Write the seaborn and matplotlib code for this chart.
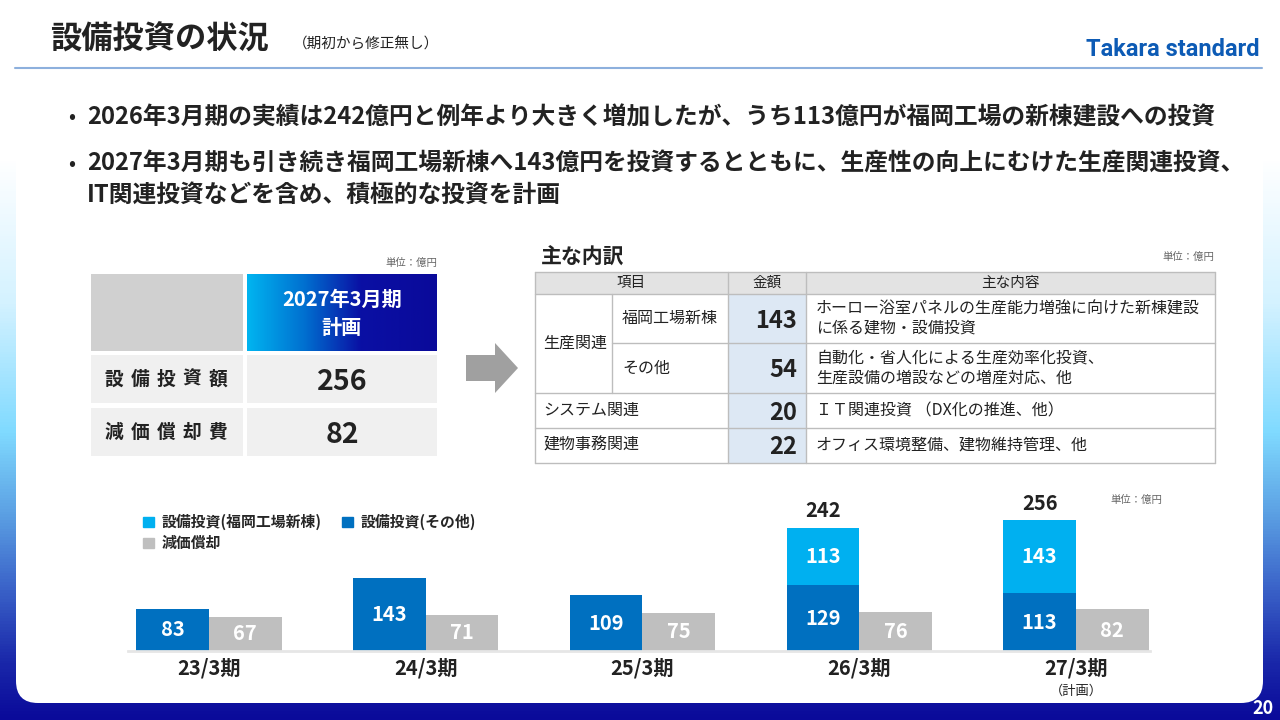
import numpy as np
import pandas as pd
import matplotlib.pyplot as plt
import seaborn as sns
from matplotlib.colors import LinearSegmentedColormap
from matplotlib.patches import Rectangle, FancyBboxPatch, Polygon, Patch

# chart data (億円)
periods = ['23/3期', '24/3期', '25/3期', '26/3期', '27/3期']
capex_fukuoka = [0, 0, 0, 113, 143]
capex_other = [83, 143, 109, 129, 113]
depreciation = [67, 71, 75, 76, 82]

# left summary table
plan_labels = ['設備投資額', '減価償却費']
plan_values = [256, 82]

# breakdown table
detail_groups = ['生産関連', 'システム関連', '建物事務関連']
detail_items = ['福岡工場新棟', 'その他']
detail_amounts = [143, 54, 20, 22]
detail_contents = [
    ['ホーロー浴室パネルの生産能力増強に向けた新棟建設', 'に係る建物・設備投資'],
    ['自動化・省人化による生産効率化投資、', '生産設備の増設などの増産対応、他'],
    ['ＩＴ関連投資 （DX化の推進、他）'],
    ['オフィス環境整備、建物維持管理、他'],
]

bullets = [
    ['2026年3月期の実績は242億円と例年より大きく増加したが、うち113億円が福岡工場の新棟建設への投資'],
    ['2027年3月期も引き続き福岡工場新棟へ143億円を投資するとともに、生産性の向上にむけた生産関連投資、',
     'IT関連投資などを含め、積極的な投資を計画'],
]

sns.set_theme(style='white')
plt.rcParams['font.family'] = ['Noto Sans CJK JP', 'DejaVu Sans']

DARK = '#222222'
LIGHT_BLUE = '#00B0F0'
MID_BLUE = '#0070C0'
GRAY = '#BFBFBF'

fig = plt.figure(figsize=(12.8, 7.2), dpi=100)

# background layer in pixel coordinates
bg = fig.add_axes([0, 0, 1, 1])
bg.axis('off')

bg_cmap = LinearSegmentedColormap.from_list('bg', [
    (0.0, '#FFFFFF'), (0.22, '#FFFFFF'), (0.42, '#D4F2FF'), (0.60, '#80DAFF'),
    (0.72, '#5A9DE2'), (0.82, '#3A62C8'), (0.92, '#1A28AA'), (1.0, '#0A0A9A')])
bg.imshow(np.linspace(0, 1, 720).reshape(-1, 1), cmap=bg_cmap,
          extent=[0, 1280, 720, 0], aspect='auto', zorder=0)
bg.add_patch(FancyBboxPatch((16, -60), 1247, 763,
                            boxstyle='round,pad=0,rounding_size=22',
                            fc='white', ec='none', zorder=1))

# header
bg.text(50, 40, '設備投資の状況', fontsize=22.5, fontweight='bold', color=DARK,
        va='center', zorder=3)
bg.text(293, 45, '（期初から修正無し）', fontsize=10.5, color=DARK, va='center', zorder=3)
bg.text(1260, 49, 'Takara standard', fontsize=17, fontweight='bold', color='#0D5BB5',
        ha='right', va='center', family=['Liberation Sans Narrow', 'Roboto'], zorder=3)
bg.plot([15, 1262], [68, 68], color='#8DB0DD', lw=1.5, zorder=3)

# bullets
y = 117
for lines in bullets:
    bg.text(72, y, '•', fontsize=15, color=DARK, ha='center', va='center', zorder=3)
    for k, line in enumerate(lines):
        bg.text(87, y + k * 31, line, fontsize=17.1, fontweight='bold', color=DARK,
                va='center', zorder=3)
    y += 47

# left summary table
bg.text(437, 263, '単位：億円', fontsize=7.5, color='#666666', ha='right', va='center', zorder=3)
bg.add_patch(Rectangle((91, 274), 152, 77, fc='#D0D0D0', ec='none', zorder=2))
head_cmap = LinearSegmentedColormap.from_list('head', [
    (0.0, '#00B4F0'), (0.3, '#0070D0'), (0.6, '#0A10A4'), (1.0, '#0A0A9A')])
bg.imshow(np.linspace(0, 1, 200).reshape(1, -1), cmap=head_cmap,
          extent=[247, 437, 351, 274], aspect='auto', zorder=2)
bg.text(342, 299, '2027年3月期', fontsize=14.5, fontweight='bold', color='white',
        ha='center', va='center', zorder=3)
bg.text(342, 327, '計画', fontsize=14.5, fontweight='bold', color='white',
        ha='center', va='center', zorder=3)
for r, (lab, val) in enumerate(zip(plan_labels, plan_values)):
    top = 355 + r * 53
    bg.add_patch(Rectangle((91, top), 152, 48, fc='#F0F0F0', ec='none', zorder=2))
    bg.add_patch(Rectangle((247, top), 190, 48, fc='#F0F0F0', ec='none', zorder=2))
    for k, ch in enumerate(lab):
        bg.text(114 + k * 26, top + 24, ch, fontsize=13.5, fontweight='bold', color=DARK,
                ha='center', va='center', zorder=3)
    bg.text(342, top + 27, str(val), fontsize=20.5, fontweight='bold', color=DARK,
            ha='center', va='center', zorder=3)

# arrow
bg.add_patch(Polygon([(466, 355), (495, 355), (495, 343), (518, 368), (495, 393),
                      (495, 381), (466, 381)], closed=True, fc='#A0A0A0', ec='none', zorder=2))

# breakdown table
bg.text(541, 257, '主な内訳', fontsize=15, fontweight='bold', color=DARK, va='center', zorder=3)
bg.text(1214, 257, '単位：億円', fontsize=7.5, color='#666666', ha='right', va='center', zorder=3)
rows = [272, 294, 343, 393, 428, 463]
bg.add_patch(Rectangle((535, 272), 680, 22, fc='#E3E3E3', ec='none', zorder=2))
bg.add_patch(Rectangle((728, 294), 78, 169, fc='#DDE8F4', ec='none', zorder=2))
line_kw = dict(color='#BDBDBD', lw=1, zorder=2.5)
for yy in [272, 294, 393, 428, 463]:
    bg.plot([535, 1215], [yy, yy], **line_kw)
bg.plot([612, 1215], [343, 343], **line_kw)
for xx in [535, 728, 806, 1215]:
    bg.plot([xx, xx], [272, 463], **line_kw)
bg.plot([612, 612], [294, 393], **line_kw)

for txt, cx in zip(['項目', '金額', '主な内容'], [631, 767, 1010]):
    bg.text(cx, 283, txt, fontsize=10.5, color=DARK, ha='center', va='center', zorder=3)

bg.text(543, 343, detail_groups[0], fontsize=11.5, color=DARK, va='center', zorder=3)
for k, item in enumerate(detail_items):
    bg.text(622, (rows[1 + k] + rows[2 + k]) / 2, item, fontsize=11.5,
            color=DARK, va='center', zorder=3)
for k, grp in enumerate(detail_groups[1:]):
    bg.text(543, (rows[3 + k] + rows[4 + k]) / 2, grp, fontsize=11.5, color=DARK,
            va='center', zorder=3)
for k, (amt, content) in enumerate(zip(detail_amounts, detail_contents)):
    mid = (rows[1 + k] + rows[2 + k]) / 2
    bg.text(797, mid + 2, str(amt), fontsize=17, fontweight='bold', color=DARK,
            ha='right', va='center', zorder=3)
    n = len(content)
    for j, line in enumerate(content):
        bg.text(816, mid + (j - (n - 1) / 2) * 19.5, line, fontsize=11.5, color=DARK,
                va='center', zorder=3)

# chart notes
bg.text(1162, 500, '単位：億円', fontsize=7.5, color='#666666', ha='right', va='center', zorder=3)
bg.text(1076, 691, '（計画）', fontsize=9.5, color=DARK, ha='center', va='center', zorder=3)
bg.text(1263, 708, '20', fontsize=13, fontweight='bold', color='white',
        ha='center', va='center', zorder=3)
bg.set_xlim(0, 1280)
bg.set_ylim(720, 0)

# bar chart
ax = fig.add_axes([100 / 1280, 69 / 720, 1080 / 1280, 181 / 720])
ax.patch.set_alpha(0)
totals = [a + b for a, b in zip(capex_other, capex_fukuoka)]
df_top = pd.DataFrame({'期': periods * 2,
                       '系列': ['設備投資'] * 5 + ['減価償却'] * 5,
                       '値': totals + depreciation})
df_base = pd.DataFrame({'期': periods * 2,
                        '系列': ['設備投資'] * 5 + ['減価償却'] * 5,
                        '値': capex_other + depreciation})
order = ['設備投資', '減価償却']
sns.barplot(data=df_top, x='期', y='値', hue='系列', hue_order=order,
            palette={'設備投資': LIGHT_BLUE, '減価償却': GRAY}, width=0.67,
            saturation=1, errorbar=None, legend=False, linewidth=0, ax=ax)
sns.barplot(data=df_base, x='期', y='値', hue='系列', hue_order=order,
            palette={'設備投資': MID_BLUE, '減価償却': GRAY}, width=0.67,
            saturation=1, errorbar=None, legend=False, linewidth=0, ax=ax)

lab_kw = dict(fontsize=14.5, fontweight='bold', color='white')
ax.bar_label(ax.containers[2], labels=[str(v) for v in capex_other], label_type='center', **lab_kw)
ax.bar_label(ax.containers[3], labels=[str(v) for v in depreciation], label_type='center', **lab_kw)
for bar, f, o in zip(ax.containers[0], capex_fukuoka, capex_other):
    if f:
        ax.text(bar.get_x() + bar.get_width() / 2, o + f / 2, str(f),
                ha='center', va='center', **lab_kw)
ax.bar_label(ax.containers[0], labels=[str(t) if f else '' for t, f in zip(totals, capex_fukuoka)],
             padding=5, fontsize=14.5, fontweight='bold', color=DARK)

ax.set_xlim(-0.503, 4.48)
ax.set_ylim(0, 355)
ax.set_xlabel('')
ax.set_ylabel('')
ax.set_yticks([])
ax.set_xticks(range(len(periods)))
ax.set_xticklabels(periods, fontsize=14.5, fontweight='bold', color=DARK)
ax.tick_params(axis='x', length=0, pad=5)
for s in ['left', 'top', 'right']:
    ax.spines[s].set_visible(False)
ax.spines['bottom'].set_color('#E6E6E6')
ax.spines['bottom'].set_linewidth(2)
ax.spines['bottom'].set_bounds(-0.374, 4.34)

handles = [Patch(color=LIGHT_BLUE), Patch(color=GRAY), Patch(color=MID_BLUE)]
labels = ['設備投資(福岡工場新棟)', '減価償却', '設備投資(その他)']
fig.legend(handles, labels, loc='upper left', bbox_to_anchor=(143 / 1280, 1 - 514 / 720),
           ncol=2, frameon=False, prop={'weight': 'bold', 'size': 10.7},
           handlelength=0.74, handleheight=0.74, handletextpad=0.5,
           columnspacing=1.4, labelspacing=0.33, borderaxespad=0, borderpad=0)

fig.savefig('out.png', dpi=100)
